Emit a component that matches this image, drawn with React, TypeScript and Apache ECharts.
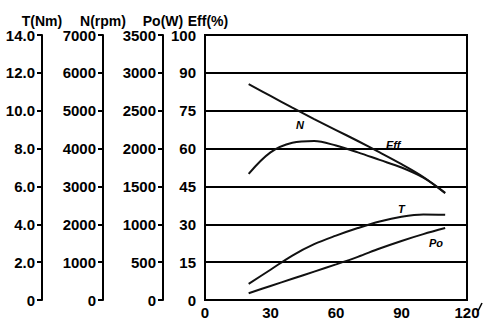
import React, { useEffect, useRef } from "react";
import * as echarts from "echarts";

const speedX = [20, 30, 40, 50, 60, 70, 80, 90, 100, 110];
const nRpm = [5700, 5390, 5080, 4780, 4490, 4200, 3900, 3590, 3250, 2820];
const effPct = [50, 58.5, 62.3, 63, 61.2, 58.5, 55.5, 52.5, 48.5, 42.5];
const torqueNm = [0.85, 1.6, 2.35, 2.95, 3.4, 3.8, 4.15, 4.4, 4.52, 4.5];
const powerW = [90, 185, 280, 375, 470, 570, 680, 780, 870, 950];

const effTicks = [0, 15, 30, 45, 60, 75, 90, 100];
const xTicks = [0, 30, 60, 90, 120];

const FONT = "'Liberation Sans Narrow', 'Liberation Sans', Arial, sans-serif";

export default function App() {
  const ref = useRef<HTMLDivElement>(null);
  useEffect(() => {
    const chart = echarts.init(ref.current!, undefined, { renderer: "svg" });
    const lbl = { color: "#000", fontFamily: FONT, fontWeight: "bold" as const, fontSize: 15 };
    const nameStyle = { color: "#000", fontFamily: FONT, fontWeight: "bold" as const, fontSize: 14 };
    const sideAxis = (min: number, max: number, interval: number, offset: number, name: string, fmt: (v: number) => string) => ({
      type: "value",
      position: "left",
      offset,
      min,
      max,
      interval,
      name,
      nameLocation: "end",
      nameGap: 7,
      nameTextStyle: nameStyle,
      axisLine: { show: true, lineStyle: { color: "#000", width: 2 } },
      axisTick: { show: true, inside: false, length: 5, lineStyle: { color: "#000", width: 2 } },
      axisLabel: { ...lbl, margin: 7, formatter: fmt },
      splitLine: { show: false },
    });
    const mk = (data: number[], yIdx: number) => ({
      type: "line",
      yAxisIndex: yIdx,
      smooth: 0.35,
      symbol: "none",
      lineStyle: { color: "#111", width: 2 },
      data: speedX.map((x, i) => [x, data[i]]),
    });
    const italic = { fill: "#000", fontFamily: "'Liberation Sans', Arial, sans-serif", fontStyle: "italic", fontWeight: "bold", fontSize: 11 };
    chart.setOption({
      animation: false,
      grid: { left: 205, right: 18, top: 35, bottom: 25, show: true, borderColor: "#000", borderWidth: 2 },
      xAxis: {
        type: "value",
        min: 0,
        max: 120,
        interval: 30,
        axisLine: { show: true, lineStyle: { color: "#000", width: 2 } },
        axisTick: { show: false },
        axisLabel: { ...lbl, margin: 5, formatter: (v: number) => (xTicks.includes(v) ? String(v) : "") },
        splitLine: { show: false },
      },
      yAxis: [
        {
          type: "value",
          position: "left",
          min: 0,
          max: 105,
          interval: 15,
          name: "Eff(%)",
          nameLocation: "end",
          nameGap: 7,
          nameTextStyle: { ...nameStyle, padding: [0, 0, 0, 6] },
          axisLine: { show: true, lineStyle: { color: "#000", width: 2 } },
          axisTick: { show: false },
          axisLabel: { ...lbl, margin: 9, formatter: (v: number) => String(effTicks[Math.round(v / 15)]) },
          splitLine: { show: true, lineStyle: { color: "#000", width: 2 } },
        },
        sideAxis(0, 3500, 500, 42, "Po(W)", (v) => String(v)),
        sideAxis(0, 7000, 1000, 102, "N(rpm)", (v) => String(v)),
        sideAxis(0, 14, 2, 163, "T(Nm)", (v) => (v === 0 ? "0" : v.toFixed(1))),
      ],
      series: [mk(effPct, 0), mk(powerW, 1), mk(nRpm, 2), mk(torqueNm, 3)],
      graphic: [
        { type: "text", left: 296, top: 119, style: { ...italic, text: "N" } },
        { type: "text", left: 386, top: 139, style: { ...italic, text: "Eff" } },
        { type: "text", left: 398, top: 203, style: { ...italic, text: "T" } },
        { type: "text", left: 429, top: 237, style: { ...italic, text: "Po" } },
        { type: "line", shape: { x1: 478, y1: 311, x2: 482, y2: 303 }, style: { stroke: "#000", lineWidth: 1.5 } },
      ],
    });
    return () => chart.dispose();
  }, []);
  return <div ref={ref} style={{ position: "fixed", left: 0, top: 0, width: 485, height: 325, background: "#fff" }} />;
}
